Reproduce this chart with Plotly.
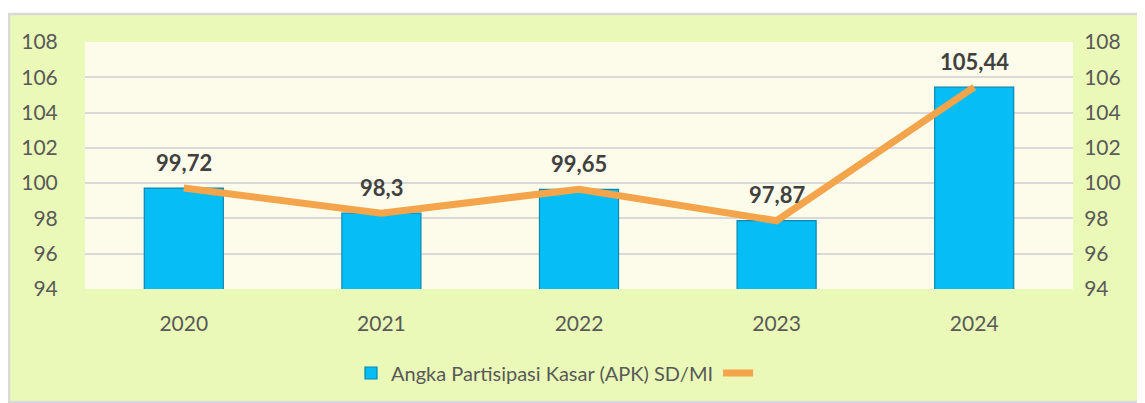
import plotly.graph_objects as go

years = ["2020", "2021", "2022", "2023", "2024"]
apk = [99.72, 98.3, 99.65, 97.87, 105.44]
labels = ["99,72", "98,3", "99,65", "97,87", "105,44"]
tick_vals = [94, 96, 98, 100, 102, 104, 106, 108]
series_name = "Angka Partisipasi Kasar (APK) SD/MI"

# page body adds an 8px offset; figure drawn 8px smaller
OFF = 8
W, H = 1145 - OFF, 403 - OFF
L, R, T, B = 85 - OFF, 72, 42 - OFF, 114
pw, ph = W - L - R, H - T - B

def px_x(p):
    return (p - OFF - L) / pw

def px_y(p):
    return (H - B - (p - OFF)) / ph

FONT = "Lato"

fig = go.Figure()
fig.add_trace(go.Bar(
    x=years, y=apk, name=series_name,
    marker=dict(color="#06BEF5", line=dict(color="#0C86AE", width=1.2)),
    hoverinfo="skip",
))
fig.add_trace(go.Scatter(
    x=years, y=apk, name=" ", mode="lines", yaxis="y2",
    line=dict(color="#F4A44A", width=7),
))

# category axis: annotation x given as category index
for i, (v, t) in enumerate(zip(apk, labels)):
    fig.add_annotation(x=i, y=v, xref="x", yref="y", text=f"<b>{t}</b>", showarrow=False,
                       yshift=26, font=dict(family=FONT, size=22, color="#404040"))

fig.add_shape(type="rect", xref="paper", yref="paper",
              x0=px_x(9), x1=px_x(1143), y0=px_y(402), y1=px_y(14),
              fillcolor="#EAF9B7", line=dict(color="#D9D9D9", width=2.5), layer="below")
fig.add_shape(type="rect", xref="paper", yref="paper",
              x0=0, x1=1, y0=0, y1=1,
              fillcolor="#FDFBE9", line=dict(width=0), layer="below")

axis_font = dict(family=FONT, size=21, color="#595959")
fig.update_layout(
    width=W, height=H,
    margin=dict(l=L, r=R, t=T, b=B, autoexpand=False),
    paper_bgcolor="white", plot_bgcolor="rgba(0,0,0,0)",
    showlegend=True,
    legend=dict(orientation="h", x=px_x(560), xanchor="center", y=px_y(373), yanchor="middle",
                font=dict(family=FONT, size=20, color="#595959"),
                bgcolor="rgba(0,0,0,0)"),
    xaxis=dict(type="category", categoryorder="array", categoryarray=years,
               range=[-0.5, len(years) - 0.5], autorange=False,
               showgrid=False, showline=False, tickfont=axis_font,
               ticks="outside", ticklen=16, tickcolor="rgba(0,0,0,0)"),
    yaxis=dict(range=[94, 108], tickvals=tick_vals, showgrid=True,
               gridcolor="#D9D9D9", gridwidth=2, zeroline=False,
               tickfont=axis_font, ticks="outside", ticklen=22,
               tickcolor="rgba(0,0,0,0)"),
    yaxis2=dict(range=[94, 108], tickvals=tick_vals, overlaying="y", side="right",
                showgrid=False, zeroline=False, tickfont=axis_font,
                ticks="outside", ticklen=6, tickcolor="rgba(0,0,0,0)"),
    bargap=0.6,
)

fig.write_html("out.html")
